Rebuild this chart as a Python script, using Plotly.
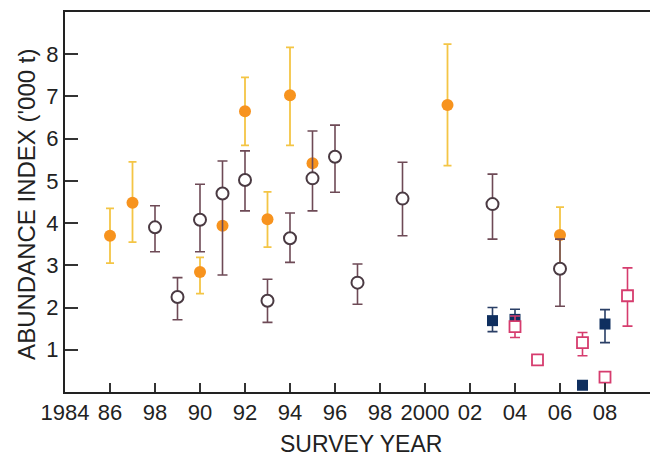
import plotly.graph_objects as go

# ---- data ----
tick_vals = [1984, 1986, 1988, 1990, 1992, 1994, 1996, 1998, 2000, 2002, 2004, 2006, 2008]
tick_text = ["1984", "86", "98", "90", "92", "94", "96", "98", "2000", "02", "04", "06", "08"]

orange_years = [1986, 1987, 1990, 1991, 1992, 1993, 1994, 1995, 2001, 2006]
orange_vals = [3.70, 4.48, 2.84, 3.94, 6.65, 4.09, 7.03, 5.42, 6.80, 3.72]
orange_lo = [3.05, 3.55, 2.33, 3.94, 5.84, 3.43, 5.84, 5.42, 5.36, 3.00]
orange_hi = [4.35, 5.45, 3.19, 3.94, 7.45, 4.74, 8.16, 5.42, 8.24, 4.38]

brown_years = [1988, 1989, 1990, 1991, 1992, 1993, 1994, 1995, 1996, 1997, 1999, 2003, 2006]
brown_vals = [3.90, 2.25, 4.08, 4.70, 5.02, 2.16, 3.64, 5.06, 5.57, 2.59, 4.58, 4.45, 2.92]
brown_lo = [3.32, 1.71, 3.32, 2.77, 4.29, 1.65, 3.07, 4.29, 4.73, 2.08, 3.70, 3.62, 2.03]
brown_hi = [4.41, 2.71, 4.92, 5.47, 5.71, 2.67, 4.24, 6.18, 6.32, 3.03, 5.44, 5.16, 3.62]

navy_years = [2003, 2004, 2007, 2008]
navy_vals = [1.69, 1.72, 0.16, 1.61]
navy_lo = [1.43, 1.45, 0.16, 1.17]
navy_hi = [2.00, 1.96, 0.16, 1.95]

pink_years = [2004, 2005, 2007, 2008, 2009]
pink_vals = [1.55, 0.76, 1.17, 0.35, 2.28]
pink_lo = [1.29, 0.76, 0.86, 0.35, 1.56]
pink_hi = [1.80, 0.76, 1.41, 0.35, 2.94]


def plus(v, hi):
    return [h - x for x, h in zip(v, hi)]


def minus(v, lo):
    return [x - l for x, l in zip(v, lo)]


fig = go.Figure()

fig.add_trace(go.Scatter(
    x=orange_years, y=orange_vals, mode="markers",
    marker=dict(symbol="circle", size=12, color="#F7931E", line=dict(width=0)),
    error_y=dict(type="data", symmetric=False, array=plus(orange_vals, orange_hi),
                 arrayminus=minus(orange_vals, orange_lo), color="#F4C545",
                 thickness=1.8, width=4),
    showlegend=False))

fig.add_trace(go.Scatter(
    x=brown_years, y=brown_vals, mode="markers",
    marker=dict(symbol="circle", size=12, color="white", line=dict(width=2, color="#4A3A42")),
    error_y=dict(type="data", symmetric=False, array=plus(brown_vals, brown_hi),
                 arrayminus=minus(brown_vals, brown_lo), color="#6E4A56",
                 thickness=1.6, width=5),
    showlegend=False))

fig.add_trace(go.Scatter(
    x=navy_years, y=navy_vals, mode="markers",
    marker=dict(symbol="square", size=11, color="#0F2F5F", line=dict(width=0)),
    error_y=dict(type="data", symmetric=False, array=plus(navy_vals, navy_hi),
                 arrayminus=minus(navy_vals, navy_lo), color="#2A3F66",
                 thickness=1.6, width=5),
    showlegend=False))

fig.add_trace(go.Scatter(
    x=pink_years, y=pink_vals, mode="markers",
    marker=dict(symbol="square", size=11, color="white", line=dict(width=1.8, color="#D63C6E")),
    error_y=dict(type="data", symmetric=False, array=plus(pink_vals, pink_hi),
                 arrayminus=minus(pink_vals, pink_lo), color="#D63C6E",
                 thickness=1.6, width=5),
    showlegend=False))

font_family = "Liberation Sans, Arial, sans-serif"

fig.update_layout(
    width=659, height=456,
    margin=dict(l=65, r=9, t=12, b=64),
    paper_bgcolor="white", plot_bgcolor="white",
    font=dict(family=font_family, size=22, color="#222222"),
    xaxis=dict(range=[1984, 2010], tickvals=tick_vals, ticktext=tick_text,
               ticks="inside", ticklen=9, tickwidth=1.5, tickcolor="#333333",
               showline=True, linecolor="#222222", linewidth=2, mirror=True,
               showgrid=False, zeroline=False,
               tickfont=dict(size=22, family=font_family, color="#222222")),
    yaxis=dict(range=[0, 9.0], tickvals=[1, 2, 3, 4, 5, 6, 7, 8],
               ticks="inside", ticklen=13, tickwidth=1.5, tickcolor="#333333",
               showline=True, linecolor="#222222", linewidth=2,
               showgrid=False, zeroline=False,
               tickfont=dict(size=22, family=font_family, color="#222222")),
    annotations=[
        dict(text="ABUNDANCE INDEX ('000 t)", xref="paper", yref="paper",
             x=-0.065, y=0.495, xanchor="center", yanchor="middle",
             textangle=-90, showarrow=False,
             font=dict(size=24, family=font_family, color="#222222")),
        dict(text="SURVEY YEAR", xref="paper", yref="paper",
             x=0.506, y=-0.137, xanchor="center", yanchor="middle",
             showarrow=False,
             font=dict(size=23, family=font_family, color="#222222")),
    ],
)

fig.write_html("out.html",
               config={"displayModeBar": False},
               post_script="document.body.style.margin='0';document.body.style.padding='0';document.body.style.overflow='hidden';")
